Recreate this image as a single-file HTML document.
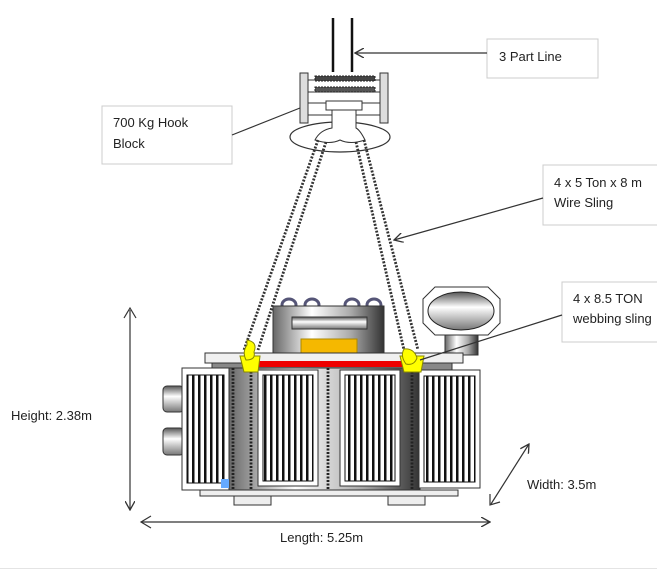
<!DOCTYPE html>
<html><head><meta charset="utf-8"><style>
body{margin:0;background:#fff;}
svg{display:block;font-family:"Liberation Sans",sans-serif;}
</style></head><body>
<svg width="657" height="570" viewBox="0 0 657 570" xmlns="http://www.w3.org/2000/svg">
<defs>
<linearGradient id="g" x1="0" x2="1"><stop offset="0" stop-color="#666"/><stop offset="0.35" stop-color="#fff"/><stop offset="0.7" stop-color="#aaa"/><stop offset="1" stop-color="#333"/></linearGradient>
<linearGradient id="gv" x1="0" y1="0" x2="0" y2="1"><stop offset="0" stop-color="#555"/><stop offset="0.4" stop-color="#fff"/><stop offset="1" stop-color="#777"/></linearGradient>
<pattern id="st" width="6" height="10" patternUnits="userSpaceOnUse"><rect width="6" height="10" fill="#fff"/><rect width="2.5" height="10" fill="#111"/></pattern>
<marker id="ah" markerWidth="10" markerHeight="10" refX="9" refY="5" orient="auto" markerUnits="userSpaceOnUse"><path d="M0,0 L9,5 L0,10" fill="none" stroke="#333" stroke-width="1.3"/></marker>
</defs>

<line x1="333" y1="18" x2="333" y2="72" stroke="#111" stroke-width="2.5"/>
<line x1="352" y1="18" x2="352" y2="72" stroke="#111" stroke-width="2.5"/>
<ellipse cx="340" cy="137" rx="50" ry="15" fill="#fff" stroke="#333" stroke-width="1.2"/>
<rect x="300" y="73" width="8" height="50" fill="#ddd" stroke="#333"/>
<rect x="380" y="73" width="8" height="50" fill="#ddd" stroke="#333"/>
<line x1="308" y1="80" x2="380" y2="80" stroke="#333"/>
<line x1="308" y1="92" x2="380" y2="92" stroke="#333"/>
<line x1="308" y1="103" x2="380" y2="103" stroke="#333"/>
<line x1="308" y1="115" x2="380" y2="115" stroke="#333"/>
<rect x="315" y="76" width="60" height="5" fill="#444" stroke="#222" stroke-dasharray="2 1"/>
<rect x="315" y="87" width="60" height="5" fill="#555" stroke="#222" stroke-dasharray="2 1"/>
<rect x="326" y="101" width="36" height="9" fill="#fff" stroke="#333"/>
<path d="M332,110 L332,128 Q320,130 315,140 Q330,145 340,140 Q350,145 365,140 Q360,130 356,128 L356,110 Z" fill="#fff" stroke="#333"/>

<g stroke="#333" stroke-width="2.8" stroke-dasharray="2 1.5" fill="none">
<line x1="318" y1="140" x2="244" y2="350"/>
<line x1="326" y1="142" x2="258" y2="350"/>
<line x1="356" y1="142" x2="404" y2="350"/>
<line x1="364" y1="140" x2="418" y2="350"/>
</g>

<rect x="445" y="333" width="33" height="22" fill="url(#g)" stroke="#333"/>
<polygon points="435,287 488,287 500,299 500,323 488,335 435,335 423,323 423,299" fill="#fff" stroke="#333"/>
<ellipse cx="461" cy="311" rx="33" ry="19" fill="url(#gv)" stroke="#222"/>

<g fill="#fff" stroke="#557" stroke-width="3">
<ellipse cx="289" cy="305" rx="7" ry="6"/><ellipse cx="312" cy="305" rx="7" ry="6"/>
<ellipse cx="352" cy="305" rx="7" ry="6"/><ellipse cx="374" cy="305" rx="7" ry="6"/>
</g>
<rect x="273" y="306" width="111" height="48" fill="url(#g)" stroke="#333"/>
<rect x="292" y="317" width="75" height="12" fill="url(#gv)" stroke="#333"/>
<rect x="301" y="339" width="56" height="14" fill="#f5b800" stroke="#a80"/>

<rect x="205" y="353" width="258" height="10" fill="#f0f0f0" stroke="#333"/>
<rect x="212" y="363" width="240" height="8" fill="#888" stroke="#333"/>

<rect x="163" y="386" width="21" height="26" rx="4" fill="url(#gv)" stroke="#333"/>
<rect x="163" y="428" width="21" height="27" rx="4" fill="url(#gv)" stroke="#333"/>

<rect x="228" y="368" width="192" height="122" fill="url(#g)" stroke="#333"/>
<rect x="182" y="368" width="47" height="122" fill="#fff" stroke="#333"/>
<rect x="187" y="375" width="37" height="108" fill="url(#st)" stroke="#111"/>
<rect x="258" y="370" width="60" height="116" fill="#fff" stroke="#333"/>
<rect x="263" y="375" width="50" height="106" fill="url(#st)" stroke="#111"/>
<rect x="340" y="370" width="60" height="116" fill="#fff" stroke="#333"/>
<rect x="345" y="375" width="50" height="106" fill="url(#st)" stroke="#111"/>
<rect x="419" y="370" width="61" height="118" fill="#fff" stroke="#333"/>
<rect x="424" y="376" width="51" height="106" fill="url(#st)" stroke="#111"/>
<g stroke="#222" stroke-width="2.8" stroke-dasharray="2 1.5">
<line x1="233" y1="368" x2="233" y2="490"/>
<line x1="251" y1="368" x2="251" y2="490"/>
<line x1="328" y1="368" x2="328" y2="492"/>
<line x1="412" y1="368" x2="412" y2="490"/>
</g>
<rect x="221" y="479" width="8" height="9" fill="#6af"/>
<rect x="200" y="490" width="258" height="6" fill="#eee" stroke="#333"/>
<rect x="234" y="496" width="37" height="9" fill="#eee" stroke="#333"/>
<rect x="388" y="496" width="37" height="9" fill="#eee" stroke="#333"/>

<rect x="255" y="361" width="148" height="6" fill="#e00"/>
<path d="M240,356 L260,356 L258,372 L244,372 Z" fill="#ff0" stroke="#880"/>
<path d="M247,340 Q258,342 254,352 Q256,360 246,360 Q242,352 247,345Z" fill="#ff0" stroke="#880"/>
<path d="M400,356 L424,356 L421,372 L404,372 Z" fill="#ff0" stroke="#880"/>
<path d="M404,349 Q414,348 417,358 Q414,366 406,364 Q400,356 404,349Z" fill="#ff0" stroke="#880"/>

<g fill="#fff" stroke="#ccc">
<rect x="487" y="39" width="111" height="39"/>
<rect x="102" y="106" width="130" height="58"/>
<rect x="543" y="165" width="116" height="60"/>
<rect x="562" y="282" width="97" height="60"/>
</g>
<g stroke="#333" stroke-width="1.2" fill="none">
<line x1="487" y1="53" x2="355" y2="53" marker-end="url(#ah)"/>
<line x1="232" y1="135" x2="300" y2="108"/>
<line x1="543" y1="198" x2="394" y2="240" marker-end="url(#ah)"/>
<line x1="562" y1="315" x2="420" y2="360"/>
<line x1="130" y1="310" x2="130" y2="510" marker-end="url(#ah)"/>
<line x1="141" y1="522" x2="490" y2="522" marker-end="url(#ah)"/>
<line x1="491" y1="504" x2="529" y2="444" marker-end="url(#ah)"/>
</g>
<g stroke="#333" stroke-width="1.2" fill="none">
<path d="M124,318 L130,308 L136,318"/>
<path d="M151,516 L141,522 L151,528"/>
<path d="M490,494 L490,505 L500,502"/>
</g>
<g font-size="13" fill="#222">
<text x="499" y="61">3 Part Line</text>
<text x="113" y="127">700 Kg Hook</text>
<text x="113" y="148">Block</text>
<text x="554" y="187">4 x 5 Ton x 8 m</text>
<text x="554" y="207">Wire Sling</text>
<text x="573" y="303">4 x 8.5 TON</text>
<text x="573" y="323">webbing sling</text>
<text x="11" y="420">Height: 2.38m</text>
<text x="280" y="542">Length: 5.25m</text>
<text x="527" y="489">Width: 3.5m</text>
</g>
<line x1="0" y1="568.5" x2="657" y2="568.5" stroke="#e4e4e4"/>
</svg>
</body></html>
